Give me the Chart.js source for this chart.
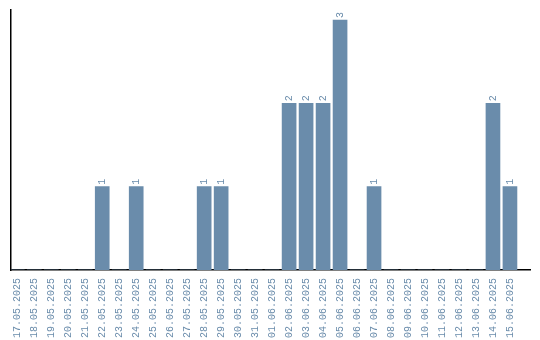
<!DOCTYPE html>
<html>
<head>
<meta charset="utf-8">
<script src="https://cdn.jsdelivr.net/npm/chart.js@4/dist/chart.umd.min.js"></script>
<style>
  html, body { margin: 0; padding: 0; background: #fff; }
  #wrap { width: 540px; height: 340px; }
</style>
</head>
<body>
<div id="wrap"><canvas id="c"></canvas></div>
<script>
var days = ["17.05.2025","18.05.2025","19.05.2025","20.05.2025","21.05.2025","22.05.2025",
  "23.05.2025","24.05.2025","25.05.2025","26.05.2025","27.05.2025","28.05.2025","29.05.2025",
  "30.05.2025","31.05.2025","01.06.2025","02.06.2025","03.06.2025","04.06.2025","05.06.2025",
  "06.06.2025","07.06.2025","08.06.2025","09.06.2025","10.06.2025","11.06.2025","12.06.2025",
  "13.06.2025","14.06.2025","15.06.2025"];
var counts = [0,0,0,0,0,1, 0,1,0,0,0,1,1, 0,0,0,2,2,2,3, 0,1,0,0,0,0,0, 0,2,1];

var barColor = "#6a8cab";
var labelFont = "'Liberation Mono', 'DejaVu Sans Mono', monospace";

// day index on x, count on y
var points = counts.map(function(v, i) { return { x: i, y: v }; });

// writes the value vertically above each bar
var valueLabels = {
    id: "valueLabels",
    afterDatasetsDraw: function(chart) {
        var ctx = chart.ctx;
        var meta = chart.getDatasetMeta(0);
        ctx.save();
        ctx.fillStyle = barColor;
        ctx.font = "10px " + labelFont;
        ctx.textAlign = "left";
        ctx.textBaseline = "middle";
        meta.data.forEach(function(bar, i) {
            var v = counts[i];
            if (!v) return;
            ctx.save();
            ctx.translate(bar.x, bar.y - 2);
            ctx.rotate(-Math.PI / 2);
            ctx.fillText(String(v), 0, 0);
            ctx.restore();
        });
        ctx.restore();
    }
};

var ctx1 = document.getElementById("c");

var chart1 = new Chart(ctx1, {
    type: "bar",
    data: {
        datasets: [{
            data: points,
            backgroundColor: barColor,
            borderWidth: 0,
            barThickness: 14
        }]
    },
    options: {
        responsive: true,
        maintainAspectRatio: false,
        animation: false,
        layout: { padding: { left: 10, top: 10, right: 10, bottom: 0 } },
        plugins: {
            legend: { display: false },
            tooltip: { enabled: false }
        },
        scales: {
            x: {
                type: "linear",
                offset: false,
                min: -0.37,
                max: 30.18,
                grid: { display: false, offset: false },
                border: { display: true, color: "#000", width: 1.5 },
                ticks: {
                    stepSize: 1,
                    includeBounds: false,
                    color: barColor,
                    font: { family: labelFont, size: 10 },
                    maxRotation: 90,
                    minRotation: 90,
                    autoSkip: false,
                    padding: 0,
                    callback: function(v) { return days[v] || ""; }
                },
                afterFit: function(scale) {
                    scale.height = 70;
                    scale.paddingLeft = 0;
                    scale.paddingRight = 0;
                }
            },
            y: {
                min: 0,
                max: 3.12,
                grid: { display: false },
                border: { display: true, color: "#000", width: 1.5 },
                ticks: { display: false },
                afterFit: function(scale) { scale.width = 1; }
            }
        }
    },
    plugins: [valueLabels]
});
</script>
</body>
</html>
